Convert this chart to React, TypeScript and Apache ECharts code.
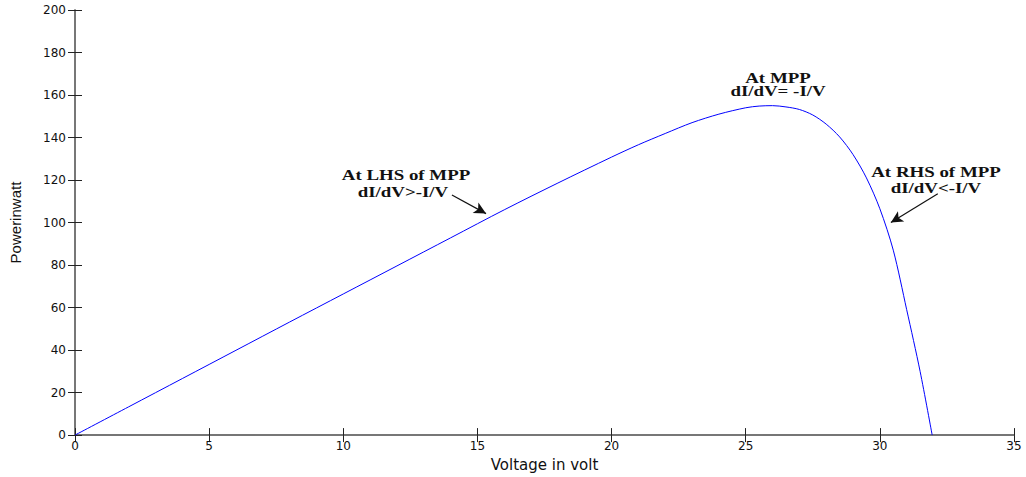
import React, { useEffect, useRef } from "react";
import * as echarts from "echarts";

const voltage = [0, 2, 4, 6, 8, 10, 12, 14, 16, 18, 20, 21, 22, 23, 24, 25, 25.5, 26, 26.5, 27, 27.5, 28, 28.5, 29, 29.5, 30, 30.5, 31, 31.5, 31.95];
const power = [0, 13.3, 26.6, 39.9, 53.2, 66.4, 79.6, 92.8, 106, 118.6, 130.8, 136.6, 141.9, 147, 151, 154, 154.8, 155, 154.4, 153.2, 150.6, 146.3, 140.3, 132, 121, 106.5, 87, 59, 30, 0];
const xTicks = [0, 5, 10, 15, 20, 25, 30, 35];
const yTicks = [0, 20, 40, 60, 80, 100, 120, 140, 160, 180, 200];

export default function App() {
  const ref = useRef<HTMLDivElement>(null);
  useEffect(() => {
    if (!ref.current) return;
    const chart = echarts.init(ref.current, null, { renderer: "svg" });
    const axisColor = "#6e6e6e";
    const labelStyle = { color: "#111", fontFamily: "DejaVu Sans, Arial", fontSize: 12 };
    const annFont = {
      fontFamily: "Liberation Serif, Times New Roman, serif",
      fontWeight: "bold",
      fontSize: 15,
      fill: "#111",
      textAlign: "center",
      textVerticalAlign: "middle",
    } as any;
    const ann = (text: string, x: number, y: number) => ({
      type: "text",
      x,
      y,
      scaleX: 1.26,
      style: { ...annFont, text },
    });
    chart.setOption({
      animation: false,
      grid: { left: 75, right: 12, top: 10, bottom: 37, containLabel: false },
      xAxis: [
        {
          type: "value", min: xTicks[0], max: xTicks[xTicks.length - 1], interval: 5,
          name: "Voltage in volt", nameLocation: "middle", nameGap: 18,
          nameTextStyle: { fontFamily: "DejaVu Sans, Arial", fontSize: 15, color: "#111" },
          axisLine: { show: true, lineStyle: { color: axisColor, width: 1.5 } },
          axisTick: { show: true, inside: true, length: 7, lineStyle: { color: "#222" } },
          axisLabel: { ...labelStyle, margin: 5 },
          splitLine: { show: false },
        },
        {
          type: "value", position: "top", min: 0, max: 35, interval: 5,
          axisLine: { show: true, lineStyle: { color: axisColor, width: 1.5 } },
          axisTick: { show: true, inside: true, length: 7, lineStyle: { color: "#222" } },
          axisLabel: { show: false }, splitLine: { show: false },
        },
      ],
      yAxis: [
        {
          type: "value", min: yTicks[0], max: yTicks[yTicks.length - 1], interval: 20,
          name: "Powerinwatt", nameLocation: "middle", nameGap: 52, nameRotate: 90,
          nameTextStyle: { fontFamily: "Liberation Sans, Arial", fontSize: 15, color: "#111" },
          axisLine: { show: true, lineStyle: { color: axisColor, width: 1.5 } },
          axisTick: { show: true, inside: true, length: 7, lineStyle: { color: "#222" } },
          axisLabel: { ...labelStyle, margin: 9 },
          splitLine: { show: false },
        },
        {
          type: "value", position: "right", min: 0, max: 200, interval: 20,
          axisLine: { show: true, lineStyle: { color: axisColor, width: 1.5 } },
          axisTick: { show: true, inside: true, length: 7, lineStyle: { color: "#222" } },
          axisLabel: { show: false }, splitLine: { show: false },
        },
      ],
      series: [
        {
          type: "line",
          data: voltage.map((v, i) => [v, power[i]]),
          smooth: 0.3,
          showSymbol: false,
          lineStyle: { color: "#0000ff", width: 1 },
          markLine: {
            silent: true,
            symbol: ["none", "arrow"],
            symbolSize: [9, 12],
            label: { show: false },
            lineStyle: { color: "#111", width: 1.2, type: "solid" },
            data: [
              [{ coord: [14.05, 113] }, { coord: [15.32, 104.2] }],
              [{ coord: [32.16, 113.5] }, { coord: [30.41, 100] }],
            ],
          },
        },
      ],
      graphic: [
        ann("At MPP", 778, 78),
        ann("dI/dV= -I/V", 778, 91),
        ann("At LHS of MPP", 406, 175),
        ann("dI/dV>-I/V", 403, 192),
        ann("At RHS of MPP", 936, 172),
        ann("dI/dV<-I/V", 936, 188),
      ],
    });
    return () => chart.dispose();
  }, []);
  return (
    <div
      ref={ref}
      style={{ position: "fixed", left: 0, top: 0, width: 1026, height: 477, background: "#fff" }}
    />
  );
}
